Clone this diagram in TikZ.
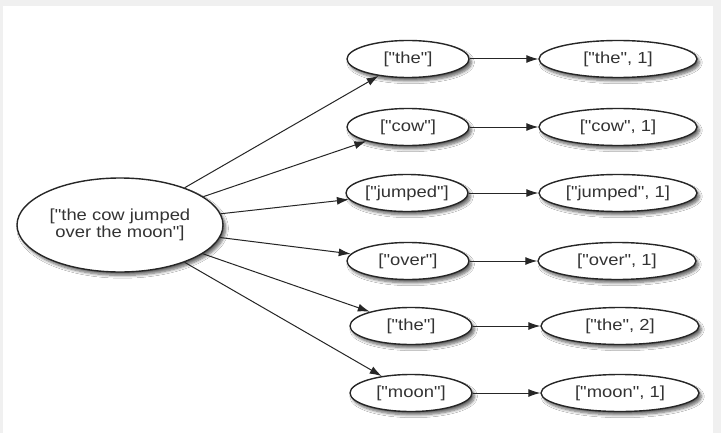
\documentclass[tikz,border=0pt]{standalone}
\usepackage{fontspec}
\newfontfamily\nodefont{Liberation Sans}[FakeStretch=1.15]
\usetikzlibrary{shapes.geometric,arrows.meta,shadows.blur}
\tikzset{
  bubble/.style={ellipse, draw=black!85, line width=0.7pt, fill=white,
    inner sep=0pt, text=black!80, font=\nodefont\fontsize{8}{8.2}\selectfont,
    blur shadow={shadow xshift=1.3pt, shadow yshift=-1.7pt,
      shadow blur radius=1.4pt, shadow blur steps=6, shadow opacity=60}},
  word/.style={bubble, minimum width=61pt, minimum height=18.5pt},
  pair/.style={bubble, minimum width=79pt, minimum height=18.5pt},
  feed/.style={draw=black!85, line width=0.5pt, -{Latex[length=6pt,width=4pt]}}
}
\begin{document}
\begin{tikzpicture}[x=0.5pt,y=-0.5pt]
    \fill[black!6] (0,0) rectangle (721,433);
    \fill[white] (3,6) rectangle (713,433);

    % the sentence
    \node[bubble, minimum width=103pt, minimum height=47pt, align=center] (line) at (120,225)
      {["the cow jumped\\over the moon"]};

    % split words
    \node[word] (w1) at (408,59) {["the"]};
    \node[word] (w2) at (408,127) {["cow"]};
    \node[word] (w3) at (407,193) {["jumped"]};
    \node[word] (w4) at (408,261) {["over"]};
    \node[word] (w5) at (411,326) {["the"]};
    \node[word] (w6) at (411,393) {["moon"]};

    % counted pairs
    \node[pair] (p1) at (618,59) {["the", 1]};
    \node[pair] (p2) at (618,127) {["cow", 1]};
    \node[pair] (p3) at (618,193) {["jumped", 1]};
    \node[pair] (p4) at (617,261) {["over", 1]};
    \node[pair] (p5) at (620,326) {["the", 2]};
    \node[pair] (p6) at (620,393) {["moon", 1]};

    \foreach \i in {1,...,6}{
      \draw[feed] (line) -- (w\i);
      \draw[feed] (w\i) -- (p\i);
    }
\end{tikzpicture}
\end{document}
